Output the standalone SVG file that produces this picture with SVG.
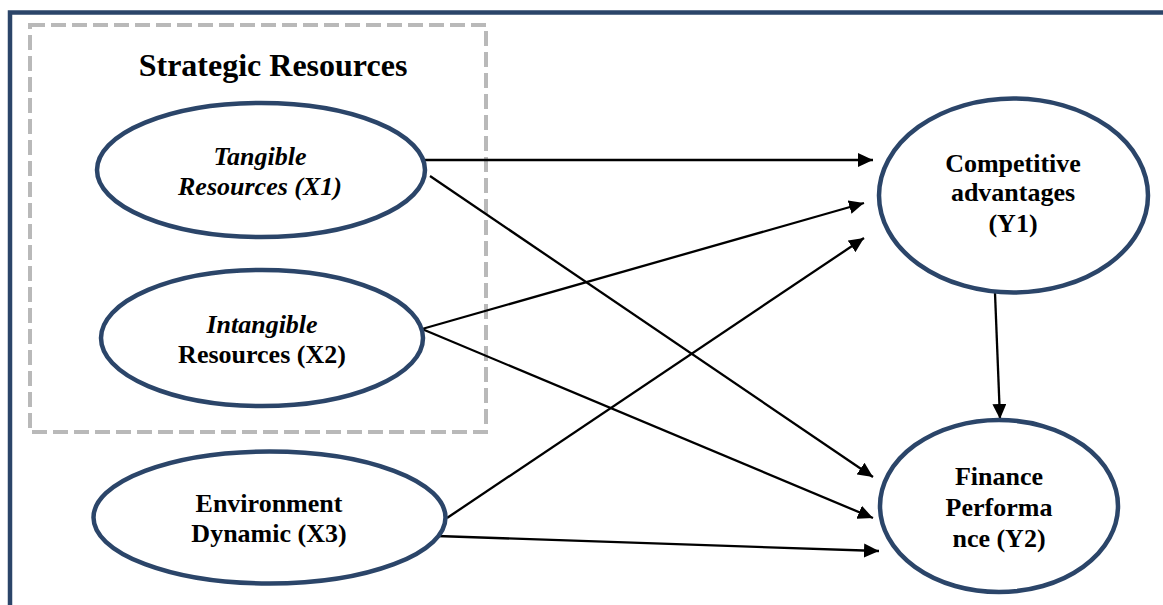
<svg xmlns="http://www.w3.org/2000/svg" width="1163" height="605" viewBox="0 0 1163 605">
<style>
.node{fill:#fff;stroke:#2b4569;stroke-width:4.5}
.t{font-family:'Liberation Serif','Times New Roman','DejaVu Serif',serif;font-size:26px;font-weight:bold;fill:#000;text-anchor:middle}
.i{font-style:italic}
.c{stroke:#000;stroke-width:2.3;fill:none;marker-end:url(#ah)}
</style>
<defs>
<marker id="ah" markerUnits="userSpaceOnUse" markerWidth="16" markerHeight="14" refX="15" refY="7" orient="auto">
<path d="M0,0 L15,7 L0,14 z" fill="#000"/>
</marker>
</defs>
<rect x="10" y="12.5" width="1170" height="620" fill="none" stroke="#2b4569" stroke-width="4.5"/>
<g id="group-strategic">
<rect x="30" y="25" width="456" height="407" fill="none" stroke="#b9b9b9" stroke-width="4" stroke-dasharray="15,6"/>
<text x="273" y="76" class="t" font-family="Liberation Serif, serif" style="font-size:32px">Strategic Resources</text>
</g>
<g id="connectors">
<line x1="425" y1="160" x2="873" y2="160" class="c"/>
<line x1="430" y1="176" x2="873" y2="477" class="c"/>
<line x1="422" y1="329" x2="864" y2="203" class="c"/>
<line x1="422" y1="329" x2="873" y2="518" class="c"/>
<line x1="447" y1="518" x2="864" y2="238" class="c"/>
<line x1="437" y1="536" x2="879" y2="551" class="c"/>
<line x1="995" y1="293" x2="1000" y2="419" class="c"/>
</g>
<g id="x1">
<ellipse cx="261" cy="170" rx="164" ry="67" class="node"/>
<text x="260" y="165" class="t i">Tangible</text>
<text x="260" y="195" class="t i">Resources (X1)</text>
</g>
<g id="x2">
<ellipse cx="262" cy="338" rx="161" ry="68" class="node"/>
<text x="262" y="333" class="t i">Intangible</text>
<text x="262" y="363" class="t">Resources (X2)</text>
</g>
<g id="x3">
<ellipse cx="269.5" cy="517.5" rx="176" ry="66" class="node"/>
<text x="269" y="512" class="t">Environment</text>
<text x="269" y="542" class="t">Dynamic (X3)</text>
</g>
<g id="y1">
<ellipse cx="1013.5" cy="195.5" rx="134.5" ry="97" class="node"/>
<text x="1013" y="172" class="t">Competitive</text>
<text x="1013" y="201" class="t">advantages</text>
<text x="1013" y="232" class="t">(Y1)</text>
</g>
<g id="y2">
<ellipse cx="999" cy="506" rx="119" ry="86" class="node"/>
<text x="999" y="485" class="t">Finance</text>
<text x="999" y="516" class="t">Performa</text>
<text x="999" y="547" class="t">nce (Y2)</text>
</g>
</svg>
